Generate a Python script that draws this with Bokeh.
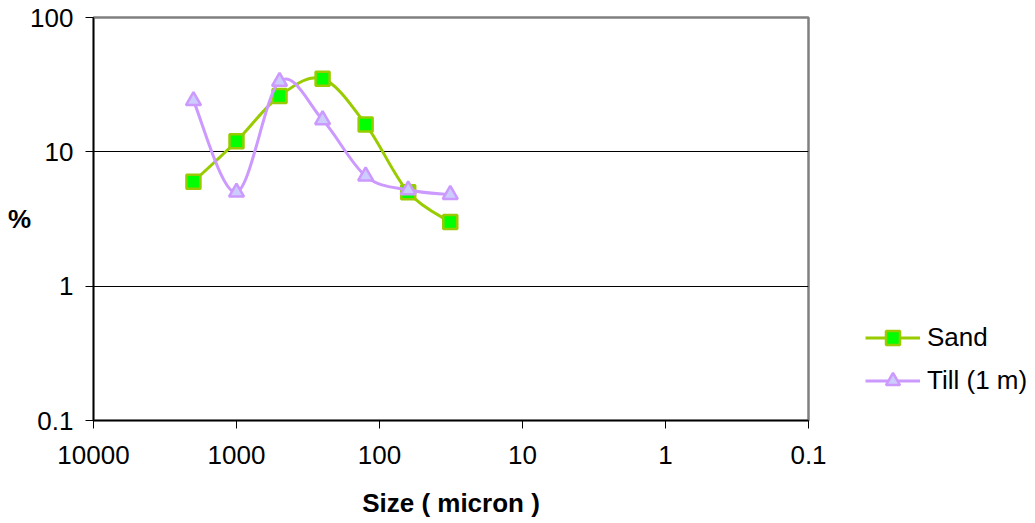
import numpy as np
from bokeh.plotting import figure
from bokeh.models import Range1d, FixedTicker, Legend, LegendItem, ColumnDataSource
from bokeh.embed import file_html
from bokeh.resources import INLINE

# ---- data ----
size_um = [2000, 1000, 500, 250, 125, 63, 32]
sand = [6, 12, 26, 35, 16, 5, 3]
till = [24, 5.0, 33.4, 17.3, 6.6, 5.2, 4.8]
series_names = ["Sand", "Till (1 m)"]
x_ticks = [10000, 1000, 100, 10, 1, 0.1]
x_tick_labels = ["10000", "1000", "100", "10", "1", "0.1"]
y_ticks = [0.1, 1, 10, 100]
y_tick_labels = ["0.1", "1", "10", "100"]

FONT = "Liberation Sans"
FS = "26px"


def smooth_segments(xs, ys):
    """Catmull-Rom style bezier segments computed in log space (like Excel's smoothed line)."""
    P = np.column_stack([np.log10(xs), np.log10(ys)])
    ext = np.vstack([P[0], P, P[-1]])
    d = dict(x0=[], y0=[], x1=[], y1=[], cx0=[], cy0=[], cx1=[], cy1=[])
    for i in range(len(P) - 1):
        p0, p1, p2, p3 = ext[i], ext[i + 1], ext[i + 2], ext[i + 3]
        c1 = p1 + (p2 - p0) / 6.0
        c2 = p2 - (p3 - p1) / 6.0
        d["x0"].append(10 ** p1[0]); d["y0"].append(10 ** p1[1])
        d["x1"].append(10 ** p2[0]); d["y1"].append(10 ** p2[1])
        d["cx0"].append(10 ** c1[0]); d["cy0"].append(10 ** c1[1])
        d["cx1"].append(10 ** c2[0]); d["cy1"].append(10 ** c2[1])
    return ColumnDataSource(d)


p = figure(frame_width=715, frame_height=403,
           x_axis_type="log", y_axis_type="log",
           x_range=Range1d(10000, 0.1), y_range=Range1d(0.1, 100),
           output_backend="svg", toolbar_location=None,
           min_border_left=93, min_border_right=227,
           min_border_top=17, min_border_bottom=103)

p.background_fill_color = "white"
p.border_fill_color = "white"
p.outline_line_color = "#808080"
p.outline_line_width = 2.5

# grid
p.xgrid.visible = False
p.ygrid.ticker = FixedTicker(ticks=y_ticks)
p.ygrid.grid_line_color = "black"
p.ygrid.grid_line_width = 1
p.ygrid.grid_line_alpha = 1

# axes
xa = p.xaxis[0]
ya = p.yaxis[0]
xa.ticker = FixedTicker(ticks=x_ticks)
xa.major_label_overrides = {t: l for t, l in zip(x_ticks, x_tick_labels)}
ya.ticker = FixedTicker(ticks=y_ticks)
ya.major_label_overrides = {t: l for t, l in zip(y_ticks, y_tick_labels)}
for ax in (xa, ya):
    ax.axis_line_color = "black"
    ax.axis_line_width = 1.5
    ax.major_tick_line_color = "black"
    ax.major_tick_line_width = 1
    ax.major_tick_in = 0
    ax.major_tick_out = 8
    ax.minor_tick_line_color = None
    ax.major_label_text_font = FONT
    ax.major_label_text_font_size = FS
    ax.major_label_text_color = "black"
    ax.axis_label_text_font = FONT
    ax.axis_label_text_font_size = FS
    ax.axis_label_text_font_style = "bold"
    ax.axis_label_text_color = "black"
xa.major_label_standoff = 17
ya.major_label_standoff = 12
xa.axis_label = "Size ( micron )"
xa.axis_label_standoff = 21
ya.axis_label = "%"
ya.axis_label_orientation = "horizontal"
ya.axis_label_standoff = -4

# series
sand_src = smooth_segments(size_um, sand)
till_src = smooth_segments(size_um, till)

sand_curve = p.bezier(x0="x0", y0="y0", x1="x1", y1="y1", cx0="cx0", cy0="cy0",
                      cx1="cx1", cy1="cy1", source=sand_src,
                      line_color="#99CC00", line_width=3)
sand_pts = p.scatter(size_um, sand, marker="square", size=14,
                     fill_color="#00FF00", line_color="#99CC00", line_width=2.5)
till_curve = p.bezier(x0="x0", y0="y0", x1="x1", y1="y1", cx0="cx0", cy0="cy0",
                      cx1="cx1", cy1="cy1", source=till_src,
                      line_color="#CC99FF", line_width=3)
till_pts = p.scatter(size_um, till, marker="triangle", size=15,
                     fill_color="#CCCCFF", line_color="#CC99FF", line_width=2.5)

legend = Legend(items=[
    LegendItem(label=series_names[0], renderers=[sand_curve, sand_pts]),
    LegendItem(label=series_names[1], renderers=[till_curve, till_pts]),
], location=(57, 22))
legend.padding = 0
legend.margin = 0
legend.spacing = 8
legend.glyph_width = 55
legend.glyph_height = 35
legend.label_height = 35
legend.label_standoff = 7
legend.label_text_font = FONT
legend.label_text_font_size = FS
legend.label_text_color = "black"
legend.border_line_color = None
legend.background_fill_alpha = 0
p.add_layout(legend, "right")

open("out.html", "w").write(file_html(p, INLINE))
